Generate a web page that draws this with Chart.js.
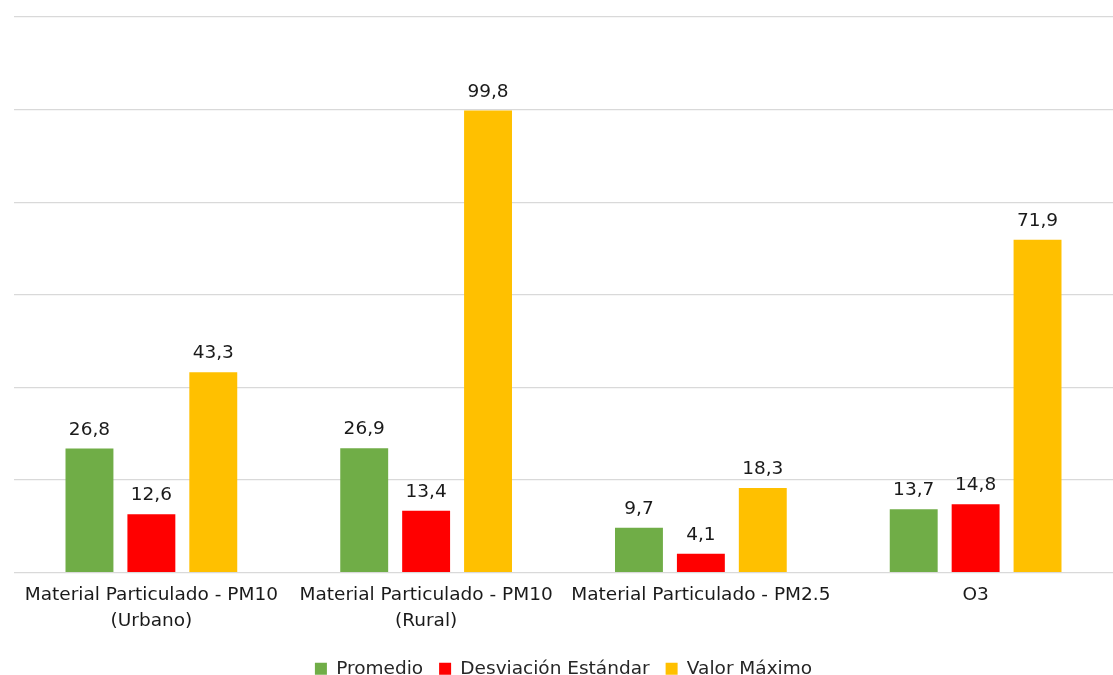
<!DOCTYPE html>
<html>
<head>
<meta charset="utf-8">
<script src="https://cdn.jsdelivr.net/npm/chart.js@4.4.1/dist/chart.umd.min.js"></script>
<style>
    html, body { margin: 0; padding: 0; background: #fff; }
    #wrap { width: 1113px; height: 675px; }
</style>
</head>
<body>
<div id="wrap"><canvas id="myChart"></canvas></div>
<script>
// datos
const categorias = [
    ['Material Particulado - PM10', '(Urbano)'],
    ['Material Particulado - PM10', '(Rural)'],
    'Material Particulado - PM2.5',
    'O3'
];
const promedio = [26.8, 26.9, 9.7, 13.7];
const desviacion = [12.6, 13.4, 4.1, 14.8];
const valorMaximo = [43.3, 99.8, 18.3, 71.9];

const fuente = "'DejaVu Sans', Verdana, sans-serif";
const tamLetra = 18.5;

// etiquetas de valor sobre cada barra, con coma decimal
const etiquetasValor = {
    id: 'etiquetasValor',
    afterDatasetsDraw(chart) {
        const ctx = chart.ctx;
        ctx.save();
        ctx.font = tamLetra + 'px ' + fuente;
        ctx.fillStyle = '#1a1a1a';
        ctx.textAlign = 'center';
        ctx.textBaseline = 'alphabetic';
        chart.data.datasets.forEach((ds, i) => {
            const meta = chart.getDatasetMeta(i);
            meta.data.forEach((bar, j) => {
                const txt = ds.data[j].toFixed(1).replace('.', ',');
                ctx.fillText(txt, bar.x, bar.y - 14);
            });
        });
        ctx.restore();
    }
};

function renderChart() {
    const ctx = document.getElementById('myChart').getContext('2d');
    new Chart(ctx, {
        type: 'bar',
        data: {
            labels: categorias,
            datasets: [
                { label: 'Promedio', data: promedio, backgroundColor: '#70ad47' },
                { label: 'Desviación Estándar', data: desviacion, backgroundColor: '#ff0000' },
                { label: 'Valor Máximo', data: valorMaximo, backgroundColor: '#ffc000' }
            ]
        },
        options: {
            responsive: true,
            maintainAspectRatio: false,
            animation: false,
            categoryPercentage: 0.676,
            barPercentage: 0.774,
            layout: { padding: { left: 14, right: 0, top: 17, bottom: -13 } },
            plugins: {
                legend: {
                    position: 'bottom',
                    labels: {
                        boxWidth: 12,
                        boxHeight: 12,
                        padding: 16,
                        color: '#262626',
                        font: { family: fuente, size: tamLetra }
                    }
                },
                tooltip: { enabled: false }
            },
            scales: {
                x: {
                    grid: { display: false, drawTicks: false },
                    border: { display: false },
                    ticks: {
                        color: '#1a1a1a',
                        font: { family: fuente, size: tamLetra, lineHeight: 1.4 },
                        maxRotation: 0,
                        autoSkip: false,
                        padding: 9.5
                    }
                },
                y: {
                    min: 0,
                    max: 120,
                    ticks: { display: false, stepSize: 20 },
                    border: { display: false },
                    grid: { color: '#d9d9d9', lineWidth: 1.3, drawTicks: false }
                }
            }
        },
        plugins: [etiquetasValor]
    });
}

document.addEventListener('DOMContentLoaded', renderChart);
</script>
</body>
</html>
